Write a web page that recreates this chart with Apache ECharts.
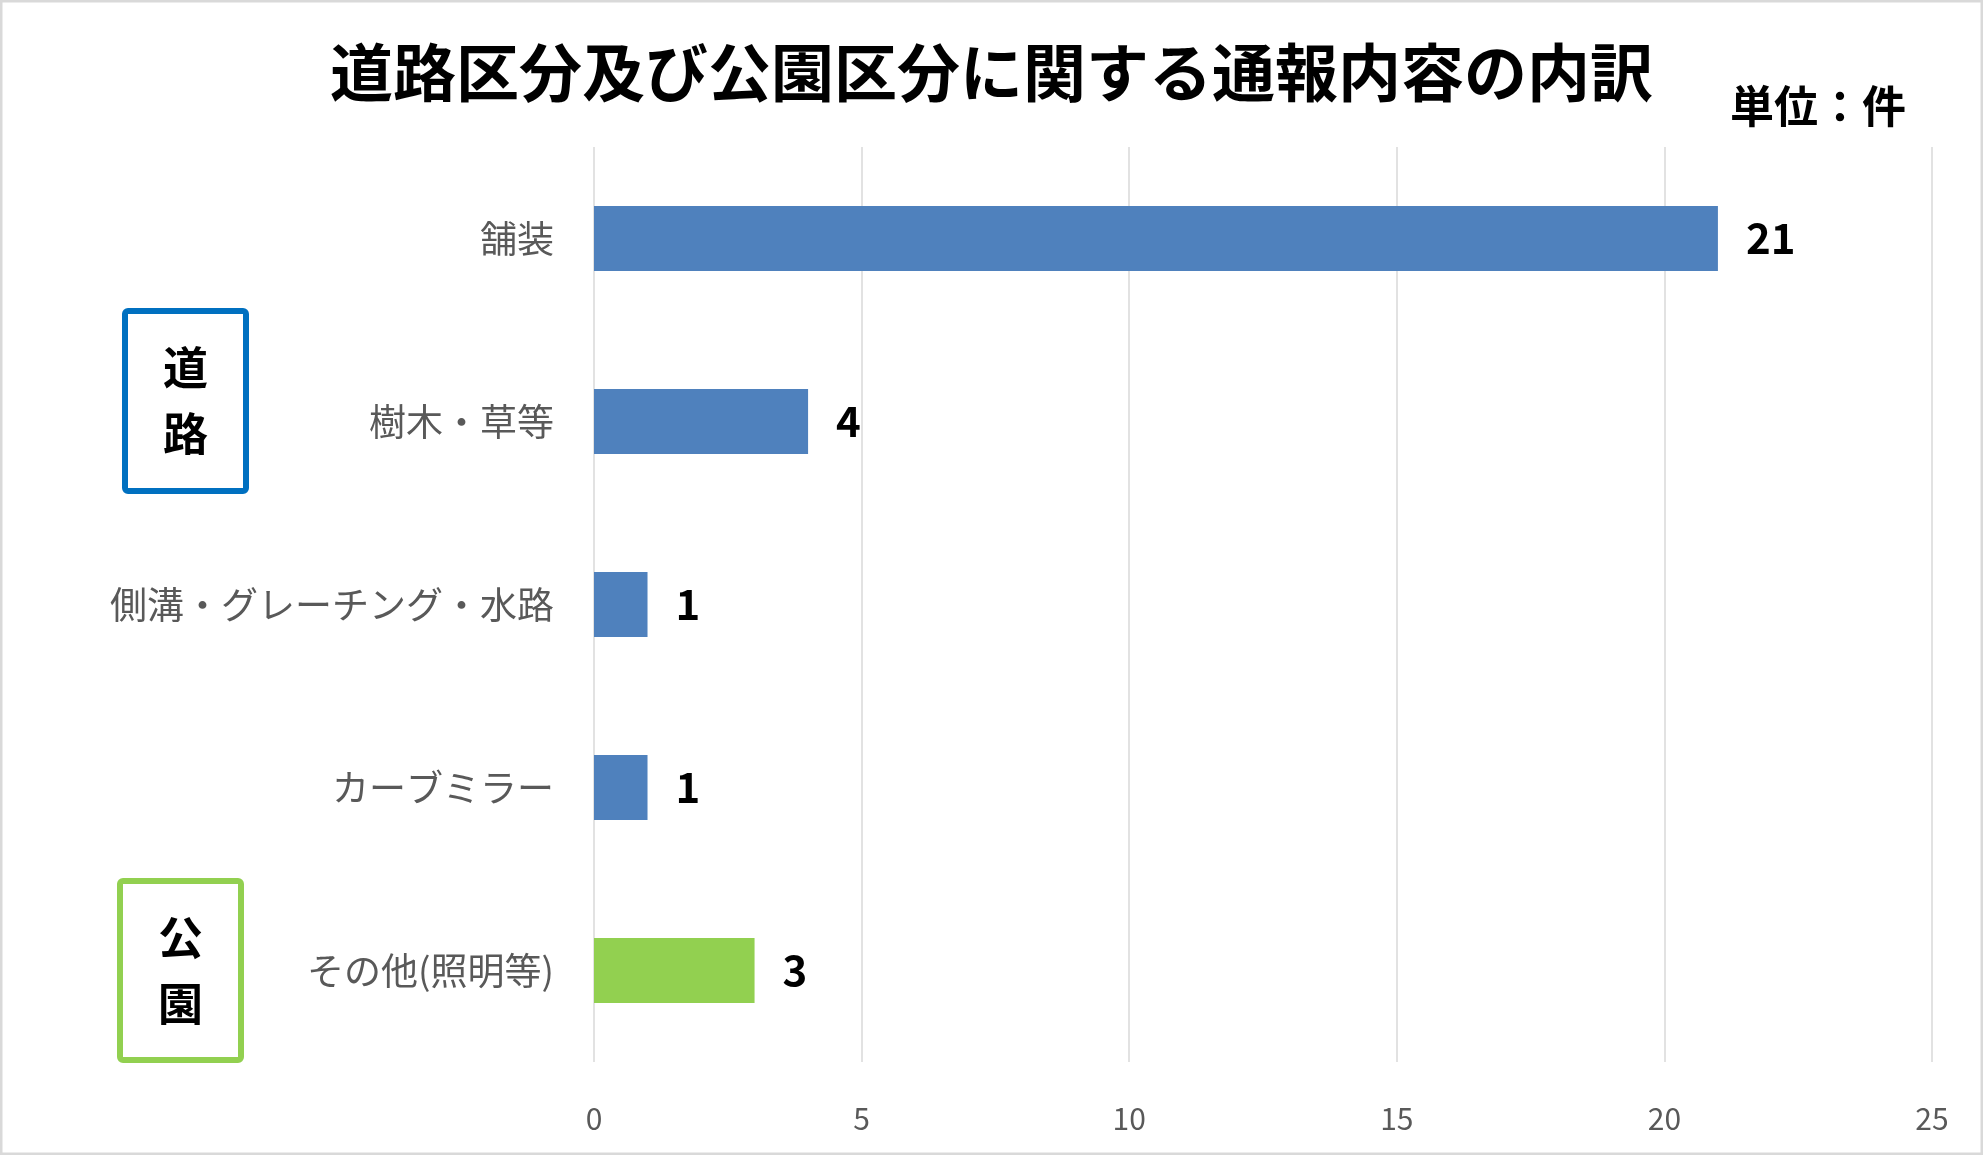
<!DOCTYPE html>
<html>
<head>
<meta charset="utf-8">
<script src="https://cdn.jsdelivr.net/npm/echarts@6/dist/echarts.min.js"></script>
<style>
  html, body { margin: 0; padding: 0; background: #fff; }
  #chart { width: 1983px; height: 1155px; }
</style>
</head>
<body>
<div id="chart"></div>
<script type="text/javascript">
	// 項目と件数
	var categories = [ '舗装', '樹木・草等', '側溝・グレーチング・水路', 'カーブミラー', 'その他(照明等)' ];
	var counts = [ 21, 4, 1, 1, 3 ];
	var groups = [ '道路', '道路', '道路', '道路', '公園' ];
	var xTicks = [ 0, 5, 10, 15, 20, 25 ];

	var groupColor = { '道路' : '#4f81bd', '公園' : '#92d050' };
	var jpFont = '"Noto Sans CJK JP", "Noto Sans", sans-serif';

	var barData = counts.map(function(v, i) {
		return { value : v, itemStyle : { color : groupColor[groups[i]] } };
	});

	// 左側の区分ボックス
	function groupBox(label, color, x, y, w, h) {
		return {
			type : 'group',
			left : x,
			top : y,
			children : [ {
				type : 'rect',
				shape : { x : 0, y : 0, width : w, height : h, r : 3 },
				style : { fill : '#fff', stroke : color, lineWidth : 6 }
			}, {
				type : 'text',
				x : w / 2,
				y : h / 2,
				style : {
					text : label.split('').join('\n'),
					font : 'bold 45px ' + jpFont,
					fill : '#000',
					align : 'center',
					verticalAlign : 'middle',
					lineHeight : 66
				}
			} ]
		};
	}

	var option = {
		animation : false,
		backgroundColor : '#fff',
		title : {
			text : '道路区分及び公園区分に関する通報内容の内訳',
			left : 'center',
			top : 36,
			textStyle : {
				color : '#000',
				fontFamily : jpFont,
				fontWeight : 'bold',
				fontSize : 63
			}
		},
		graphic : [ {
			type : 'rect',
			shape : { x : 1, y : 1, width : 1981, height : 1153 },
			style : { fill : 'none', stroke : '#d9d9d9', lineWidth : 3 },
			silent : true
		}, {
			type : 'text',
			left : 1730,
			top : 84,
			style : {
				text : '単位：件',
				font : 'bold 44px ' + jpFont,
				fill : '#000'
			}
		},
			groupBox('道路', '#0070c0', 122, 308, 121, 180),
			groupBox('公園', '#92d050', 117, 878, 121, 179)
		],
		grid : {
			left : 594,
			right : 51,
			top : 147,
			bottom : 93
		},
		xAxis : {
			type : 'value',
			min : xTicks[0],
			max : xTicks[xTicks.length - 1],
			interval : xTicks[1] - xTicks[0],
			axisLine : { show : false },
			axisTick : { show : false },
			splitLine : { lineStyle : { color : '#d9d9d9', width : 1.5 } },
			axisLabel : {
				color : '#595959',
				fontFamily : jpFont,
				fontSize : 30,
				margin : 42
			}
		},
		yAxis : {
			type : 'category',
			inverse : true,
			data : categories,
			axisLine : { show : false },
			axisTick : { show : false },
			axisLabel : {
				color : '#595959',
				fontFamily : jpFont,
				fontSize : 37,
				margin : 40
			}
		},
		series : [ {
			type : 'bar',
			data : barData,
			barWidth : '35.5%',
			label : {
				show : true,
				position : 'right',
				distance : 28,
				color : '#000',
				fontFamily : jpFont,
				fontWeight : 'bold',
				fontSize : 42
			}
		} ]
	};

	var chart = echarts.init(document.getElementById('chart'));
	chart.setOption(option);
</script>
</body>
</html>
